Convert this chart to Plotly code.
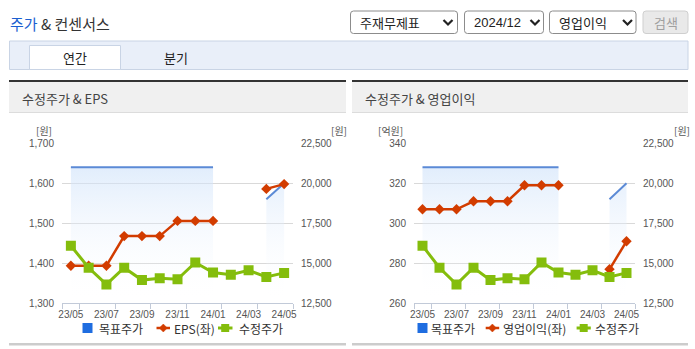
import plotly.graph_objects as go

# ---- data -------------------------------------------------------------
months = ["23/05", "23/06", "23/07", "23/08", "23/09", "23/10", "23/11",
          "23/12", "24/01", "24/02", "24/03", "24/04", "24/05"]
target_price = [21000, 21000, 21000, 21000, 21000, 21000, 21000, 21000, 21000,
                None, None, 19000, 20000]
adj_price = [16100, 14720, 13680, 14720, 13950, 14070, 14000, 15050, 14420,
             14290, 14560, 14150, 14400]
eps = [1394, 1394, 1394, 1468, 1468, 1468, 1506, 1506, 1506, None, None, 1586, 1598]
op_income = [307, 307, 307, 311, 311, 311, 319, 319, 319, None, None, 277, 291]

eps_ticks = [1300, 1400, 1500, 1600, 1700]
op_ticks = [260, 280, 300, 320, 340]
price_ticks = [12500, 15000, 17500, 20000, 22500]

W, H = 695, 349
KR = "Noto Sans CJK KR"
NUM = "Liberation Sans Narrow, Liberation Sans, Arial"

BLUE_LINE = "#5b8ad6"
RED = "#d23c00"
GREEN = "#84bd0c"
LEGEND_BLUE = "#1f6de0"


def px(x):
    return x / W


def py(y):
    return 1 - y / H


x_idx = list(range(len(months)))


def segments(values):
    """Split a series at its gaps so every run gets its own filled area."""
    runs, cur = [], []
    for i, v in enumerate(values):
        if v is None:
            if cur:
                runs.append(cur)
            cur = []
        else:
            cur.append(i)
    if cur:
        runs.append(cur)
    return runs


fig = go.Figure()


def add_chart(xa, y_price, y_left, y_adj, left_vals, left_name):
    # target price: line with a soft vertical gradient down to the axis
    for run in segments(target_price):
        fig.add_trace(go.Scatter(
            x=[x_idx[i] for i in run], y=[target_price[i] for i in run],
            xaxis=xa, yaxis=y_price, mode="lines",
            line=dict(color=BLUE_LINE, width=2),
            fill="tozeroy",
            fillgradient=dict(type="vertical", start=12500, stop=21000,
                              colorscale=[[0, "rgba(255,255,255,0)"],
                                          [1, "rgba(205,225,250,0.6)"]]),
            name="목표주가", showlegend=False, hoverinfo="skip"))
    fig.add_trace(go.Scatter(
        x=x_idx, y=left_vals, xaxis=xa, yaxis=y_left, mode="lines+markers",
        line=dict(color=RED, width=2.5), connectgaps=False,
        marker=dict(symbol="diamond", size=8, color=RED),
        name=left_name, showlegend=False))
    fig.add_trace(go.Scatter(
        x=x_idx, y=adj_price, xaxis=xa, yaxis=y_adj, mode="lines+markers",
        line=dict(color=GREEN, width=3),
        marker=dict(symbol="square", size=10, color=GREEN),
        name="수정주가", showlegend=False))


add_chart("x", "y", "y2", "y5", eps, "EPS(좌)")
add_chart("x2", "y3", "y4", "y6", op_income, "영업이익(좌)")

tickfont = dict(family=NUM, size=10, color="#555")
minor_vals = [-0.5, 0.5, 2.5, 4.5, 6.5, 8.5, 10.5, 12.5]


def xaxis_cfg(domain, anchor):
    return dict(domain=domain, anchor=anchor, range=[-0.5, 12.5],
                tickmode="array", tickvals=x_idx[::2], ticktext=months[::2],
                ticks="", showgrid=False, zeroline=False, automargin=False,
                showline=True, linecolor="#c2cad8", linewidth=1,
                tickfont=tickfont, ticklabelstandoff=2,
                minor=dict(tickmode="array", tickvals=minor_vals,
                           ticks="outside", ticklen=5, tickcolor="#c2cad8",
                           showgrid=False))


ydom = [py(303.3), py(143.3)]


def price_axis_cfg(anchor):
    # base axis of each chart: price scale on the right, carries the grid
    return dict(domain=ydom, anchor=anchor, side="right",
                range=[12500, 22500], tickmode="array", tickvals=price_ticks,
                tickformat=",", showgrid=True, gridcolor="#d9d9d9",
                gridwidth=1, zeroline=False, showline=False, ticks="",
                automargin=False, tickfont=tickfont, ticklabelstandoff=7)


def left_axis_cfg(anchor, overlay, ticks):
    return dict(overlaying=overlay, anchor=anchor, side="left",
                range=[ticks[0], ticks[-1]], tickmode="array", tickvals=ticks,
                tickformat=",", showgrid=False, zeroline=False,
                showline=False, ticks="", automargin=False,
                tickfont=tickfont, ticklabelstandoff=7)


def hidden_price_cfg(anchor, overlay):
    return dict(overlaying=overlay, anchor=anchor, range=[12500, 22500],
                visible=False, automargin=False)


fig.update_layout(
    width=W, height=H,
    margin=dict(l=0, r=0, t=0, b=0, pad=0, autoexpand=False),
    paper_bgcolor="white", plot_bgcolor="rgba(0,0,0,0)",
    showlegend=False,
    xaxis=xaxis_cfg([px(62), px(293)], "y"),
    yaxis=price_axis_cfg("x"),
    yaxis2=left_axis_cfg("x", "y", eps_ticks),
    yaxis5=hidden_price_cfg("x", "y"),
    xaxis2=xaxis_cfg([px(414), px(635)], "y3"),
    yaxis3=price_axis_cfg("x2"),
    yaxis4=left_axis_cfg("x2", "y3", op_ticks),
    yaxis6=hidden_price_cfg("x2", "y3"),
)

shapes = []
annotations = []


def rect(x0, y0, x1, y1, fill, line=None, lw=1, layer="below"):
    shapes.append(dict(type="rect", xref="paper", yref="paper",
                       x0=px(x0), x1=px(x1), y0=py(y1), y1=py(y0),
                       fillcolor=fill, layer=layer,
                       line=dict(color=line or fill, width=lw if line else 0)))


def rounded(x0, y0, x1, y1, r, fill, line):
    # rounded box in pixel units converted to paper fractions
    p = (f"M {px(x0 + r)} {py(y0)} L {px(x1 - r)} {py(y0)} "
         f"Q {px(x1)} {py(y0)} {px(x1)} {py(y0 + r)} "
         f"L {px(x1)} {py(y1 - r)} Q {px(x1)} {py(y1)} {px(x1 - r)} {py(y1)} "
         f"L {px(x0 + r)} {py(y1)} Q {px(x0)} {py(y1)} {px(x0)} {py(y1 - r)} "
         f"L {px(x0)} {py(y0 + r)} Q {px(x0)} {py(y0)} {px(x0 + r)} {py(y0)} Z")
    shapes.append(dict(type="path", xref="paper", yref="paper", path=p,
                       fillcolor=fill, line=dict(color=line, width=1),
                       layer="below"))


def chevron(cx, cy):
    p = (f"M {px(cx - 4.5)} {py(cy - 2.5)} L {px(cx)} {py(cy + 2)} "
         f"L {px(cx + 4.5)} {py(cy - 2.5)}")
    shapes.append(dict(type="path", xref="paper", yref="paper", path=p,
                       line=dict(color="#222", width=2.2)))


def text(x, y, s, size=13, color="#333", family=KR, xanchor="left"):
    annotations.append(dict(x=px(x), y=py(y), xref="paper", yref="paper",
                            text=s, showarrow=False, xanchor=xanchor,
                            yanchor="middle",
                            font=dict(family=family, size=size, color=color)))


# page header
text(8, 24, "<span style='color:#1b5fd0'>주가</span> &amp; 컨센서스", size=15,
     color="#333")

# selectors
rounded(350.5, 11, 457.5, 33.5, 3, "white", "#8c8c8c")
text(357.5, 22.5, "주재무제표", size=13, color="#222")
chevron(448, 22.5)
rounded(464.5, 11, 543.5, 33.5, 3, "white", "#8c8c8c")
text(472, 22.5, "2024/12", size=13, color="#222",
     family="Liberation Sans Narrow, Liberation Sans")
chevron(535, 22.5)
rounded(549.5, 11, 636, 33.5, 3, "white", "#8c8c8c")
text(557, 22.5, "영업이익", size=13, color="#222")
chevron(627.5, 22.5)
rounded(643, 11, 688, 33.5, 3, "#e9e9e9", "#cfcfcf")
text(665.5, 22.5, "검색", size=13, color="#a0a0a0", xanchor="center")

# tab bar
rect(9.5, 41, 688, 69.5, "#e9eff9", "#c9d4e5")
rect(29.5, 45.5, 120.5, 69.5, "white", "#c9d4e5")
text(75, 57, "연간", size=13, color="#222", xanchor="center")
text(175.5, 57, "분기", size=13, color="#222", xanchor="center")

# panels
for x0, x1, title in [(9, 346, "수정주가 &amp; EPS"), (352, 688, "수정주가 &amp; 영업이익")]:
    rect(x0, 80, x1, 82, "#333333")
    rect(x0, 82, x1, 112, "#f0f0f0")
    rect(x0, 112, x1, 113, "#dcdcdc")
    rect(x0, 343, x1, 345.5, "#cccccc")
    text(x0 + 10.5, 98, title, size=13, color="#444")

# axis unit labels
unit_font = dict(size=10, color="#555")
text(54, 130.5, "[원]", xanchor="right", **unit_font)
text(338.5, 130.5, "[원]", xanchor="center", **unit_font)
text(405, 130.5, "[억원]", xanchor="right", **unit_font)
text(681.5, 130.5, "[원]", xanchor="center", **unit_font)


# legends drawn as shapes and labels
def legend_square(cx, cy, color, size):
    h = size / 2
    rect(cx - h, cy - h, cx + h, cy + h, color, layer="above")


def legend_line(x0, x1, cy, color, width):
    shapes.append(dict(type="line", xref="paper", yref="paper",
                       x0=px(x0), x1=px(x1), y0=py(cy), y1=py(cy),
                       line=dict(color=color, width=width)))


def legend_diamond(cx, cy, r, color):
    p = (f"M {px(cx)} {py(cy - r)} L {px(cx + r)} {py(cy)} "
         f"L {px(cx)} {py(cy + r)} L {px(cx - r)} {py(cy)} Z")
    shapes.append(dict(type="path", xref="paper", yref="paper", path=p,
                       fillcolor=color, line=dict(color=color, width=0.5)))


LY = 328
leg_font = dict(size=12, color="#333")
# left chart legend
legend_square(87.5, LY, LEGEND_BLUE, 10)
text(96.5, LY, "목표주가", **leg_font)
legend_line(156.5, 170, LY, RED, 2.5)
legend_diamond(163.3, LY, 4, RED)
text(171.5, LY, "EPS(좌)", **leg_font)
legend_line(218, 232.5, LY, GREEN, 3)
legend_square(225.2, LY, GREEN, 8)
text(236.5, LY, "수정주가", **leg_font)
# right chart legend
legend_square(422.5, LY, LEGEND_BLUE, 10)
text(428.5, LY, "목표주가", **leg_font)
legend_line(485.7, 499.2, LY, RED, 2.5)
legend_diamond(492.4, LY, 4, RED)
text(500.5, LY, "영업이익(좌)", **leg_font)
legend_line(576.6, 590.8, LY, GREEN, 3)
legend_square(583.7, LY, GREEN, 8)
text(592.5, LY, "수정주가", **leg_font)

fig.update_layout(shapes=shapes, annotations=annotations)

fig.write_html("out.html")
